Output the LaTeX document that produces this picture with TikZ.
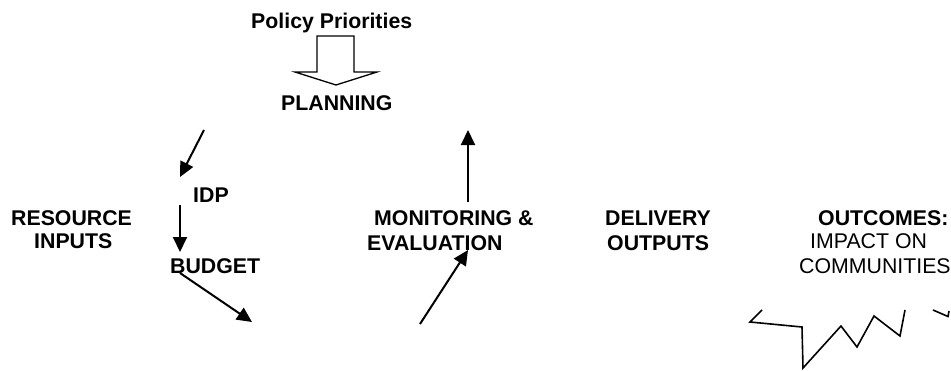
\documentclass[tikz,border=0pt]{standalone}
\usepackage{fontspec}
\setmainfont{Liberation Sans}
\usetikzlibrary{arrows.meta}
\begin{document}
\begin{tikzpicture}[x=1pt,y=-1pt,
  lbl/.style={inner sep=0pt,anchor=base west,font=\fontsize{21.3}{24}\selectfont\bfseries},
  lblr/.style={inner sep=0pt,anchor=base west,font=\fontsize{21.3}{24}\selectfont},
  flow/.style={line width=2pt,-{Triangle[length=15pt,width=14pt]}},
  jag/.style={line width=1.6pt,line join=miter}]
\useasboundingbox (0,0) rectangle (951,370);

% labels
\node[lbl] (policy) at (251,28) {Policy Priorities};
\node[lbl] (planning) at (281,110) {PLANNING};
\node[lbl] (idp) at (193,202) {IDP};
\node[lbl] (budget) at (170,273) {BUDGET};
\node[lbl] (res1) at (11,225) {RESOURCE};
\node[lbl] (res2) at (34,248) {INPUTS};
\node[lbl] (me1) at (374,225) {MONITORING \&};
\node[lbl] (me2) at (367,250) {EVALUATION};
\node[lbl] (del1) at (605,225) {DELIVERY};
\node[lbl] (del2) at (607,250) {OUTPUTS};
\node[lbl] (out1) at (818,225) {OUTCOMES:};
\node[lblr] (out2) at (810,248) {IMPACT ON};
\node[lblr] (out3) at (799,273) {COMMUNITIES};

% hollow block arrow from the priorities into planning
\draw[line width=1.3pt,line join=miter,fill=white]
  (317,36) -- (354,36) -- (354,72) -- (377,72) -- (336,85)
  -- (295,72) -- (317,72) -- cycle;

% arrow ends
\coordinate (a1s) at (204,130);
\coordinate (a1e) at (180,177);
\coordinate (a2s) at (180,205);
\coordinate (a2e) at (180,252);
\coordinate (a3s) at (180,273);
\coordinate (a3e) at (252,322);
\coordinate (a4s) at (420,324);
\coordinate (a4e) at (468,250);
\coordinate (a5s) at (468,202);
\coordinate (a5e) at (468,130);

\draw[flow] (a1s) -- (a1e);
\draw[flow] (a2s) -- (a2e);
\draw[flow] (a3s) -- (a3e);
\draw[flow] (a4s) -- (a4e);
\draw[flow] (a5s) -- (a5e);

% jagged edge beneath the outcomes
\draw[jag] (762,310) -- (750,322) -- (802,327) -- (803,368) -- (841,326)
  -- (857,347) -- (874,316) -- (900,336) -- (905,310);
\draw[jag] (933,310) -- (948,316.5) -- (949,311);
\end{tikzpicture}
\end{document}
